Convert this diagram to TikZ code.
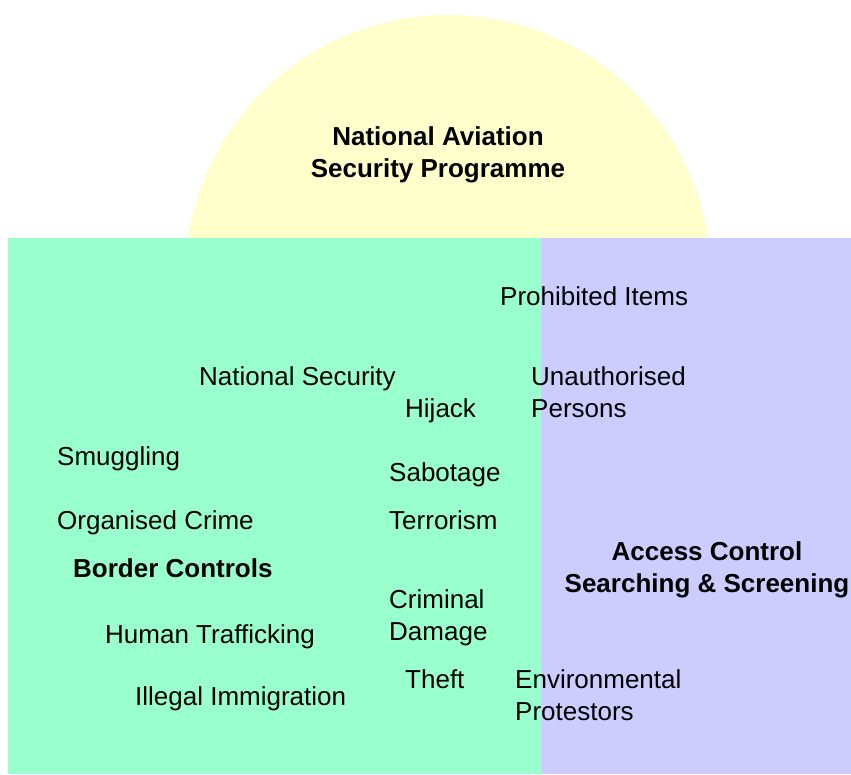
\documentclass[tikz,border=0pt]{standalone}
\usepackage{fontspec}
\setmainfont{Liberation Sans}
\definecolor{yelfill}{HTML}{FFFFCC}
\definecolor{grnfill}{HTML}{99FFCC}
\definecolor{purfill}{HTML}{CCCCFF}
\tikzset{
  lbl/.style={inner sep=0pt, anchor=base west, align=left, font=\fontsize{26}{31.5}\selectfont},
  ttl/.style={inner sep=0pt, anchor=base, align=center, font=\fontsize{26}{31.5}\selectfont\bfseries},
}
\begin{document}
\begin{tikzpicture}[x=1pt,y=-1pt]
\useasboundingbox (0,0) rectangle (851,774);
% semicircle
\fill[yelfill] (448,278) circle[radius=263];
\fill[white] (0,238) rectangle (851,774);
% panels
\fill[grnfill] (8,238) rectangle (541,774);
\fill[purfill] (541,238) rectangle (851,774);
% titles (multi-line nodes: base = last line)
\node[ttl] (nasp) at (438,177) {National Aviation\\Security Programme};
\node[ttl, anchor=base west] (bc) at (73,577) {Border Controls};
\node[ttl] (ac) at (707,592) {Access Control\\Searching \& Screening};
% labels
\node[lbl] (pi) at (500,305) {Prohibited Items};
\node[lbl] (ns) at (199,385) {National Security};
\node[lbl] (up) at (531,417) {Unauthorised\\Persons};
\node[lbl] (hj) at (405,417) {Hijack};
\node[lbl] (sm) at (57,465) {Smuggling};
\node[lbl] (sb) at (389,481) {Sabotage};
\node[lbl] (oc) at (57,529) {Organised Crime};
\node[lbl] (te) at (389,529) {Terrorism};
\node[lbl] (cd) at (389,640) {Criminal\\Damage};
\node[lbl] (ht) at (105,643) {Human Trafficking};
\node[lbl] (th) at (405,688) {Theft};
\node[lbl] (ep) at (515,720) {Environmental\\Protestors};
\node[lbl] (ii) at (135,705) {Illegal Immigration};
\end{tikzpicture}
\end{document}
